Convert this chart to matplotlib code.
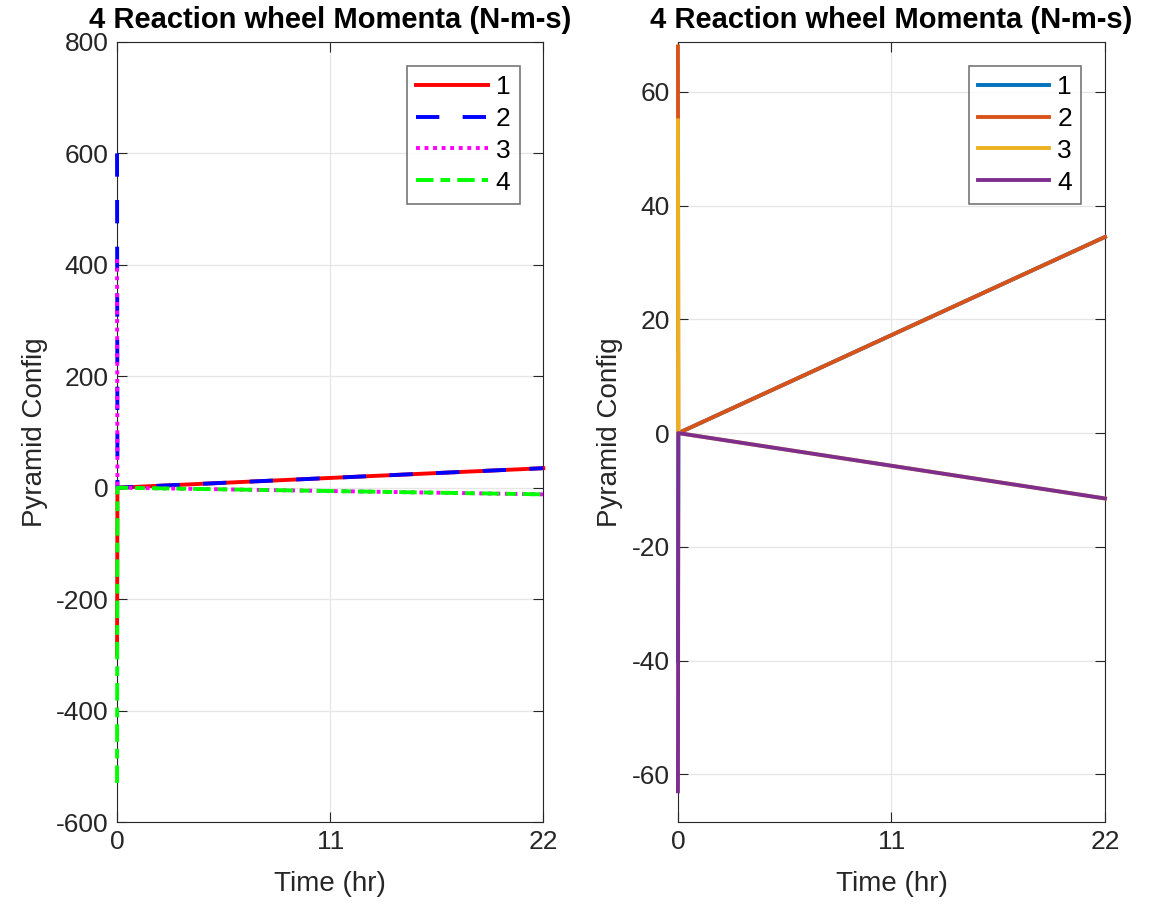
import matplotlib
matplotlib.use("Agg")
from matplotlib import pyplot as plt

# time samples (hr): initial transient at t=0, then a long linear drift
time_hr = [0, 0.02, 22]

# left panel: pyramid config, wheel momenta (N-m-s)
left_h1 = [-300, 0, 35]
left_h2 = [600, 0, 35]
left_h3 = [410, 0, -12]
left_h4 = [-530, 0, -12]

# right panel
right_h1 = [-40, 0, 34.5]
right_h2 = [68, 0, 34.5]
right_h3 = [55, 0, -11.5]
right_h4 = [-63, 0, -11.5]

wheel_labels = ["1", "2", "3", "4"]
x_ticks = [0, 11, 22]
left_yticks = [-600, -400, -200, 0, 200, 400, 600, 800]
right_yticks = [-60, -40, -20, 0, 20, 40, 60]

plt.rcParams["font.family"] = ["Liberation Sans", "DejaVu Sans"]
plt.rcParams["axes.unicode_minus"] = False
txt_color = "#262626"

fig = plt.figure(figsize=(11.52, 9.05), dpi=100)
ax1 = fig.add_axes([0.1016, 0.0917, 0.370, 0.862])
ax2 = fig.add_axes([0.5885, 0.0917, 0.3707, 0.862])

# MATLAB-like line styles
line_kw = dict(lw=2.8, clip_on=False, zorder=3)
ax1.plot(time_hr, left_h1, color="#FF0000", linestyle="-", label=wheel_labels[0], **line_kw)
ax1.plot(time_hr, left_h2, color="#0000FF", linestyle=(0, (6, 6)), label=wheel_labels[1], **line_kw)
ax1.plot(time_hr, left_h3, color="#FF00FF", linestyle=(0, (1, 1.2)), label=wheel_labels[2], **line_kw)
ax1.plot(time_hr, left_h4, color="#00FF00", linestyle=(0, (4.5, 1.8, 2.5, 1.8)), label=wheel_labels[3], **line_kw)

ax2.plot(time_hr, right_h1, color="#0072BD", label=wheel_labels[0], **line_kw)
ax2.plot(time_hr, right_h2, color="#D95319", label=wheel_labels[1], **line_kw)
ax2.plot(time_hr, right_h3, color="#EDB120", label=wheel_labels[2], **line_kw)
ax2.plot(time_hr, right_h4, color="#7E2F8E", label=wheel_labels[3], **line_kw)

ax1.set_ylim(-600, 800)
ax1.set_yticks(left_yticks)
ax2.set_ylim(-68.4, 68.8)
ax2.set_yticks(right_yticks)

for ax in (ax1, ax2):
    ax.set_xlim(0, 22)
    ax.set_xticks(x_ticks)
    ax.grid(True, color="#e6e6e6", linewidth=0.9)
    ax.set_axisbelow(True)
    ax.tick_params(direction="in", top=True, right=True, length=7, width=0.8,
                   labelsize=19, colors=txt_color, pad=6)
    for sp in ax.spines.values():
        sp.set_color(txt_color)
        sp.set_linewidth(0.8)
    ax.set_xlabel("Time (hr)", fontsize=20, color=txt_color, labelpad=12)
    ax.set_ylabel("Pyramid Config", fontsize=20, color=txt_color, labelpad=6)
    ax.set_title("4 Reaction wheel Momenta (N-m-s)", fontsize=21, fontweight="bold", pad=10)
    leg = ax.legend(loc="upper right", fontsize=19, frameon=True, fancybox=False,
                    handlelength=2.7, handletextpad=0.3, borderpad=0.35, labelspacing=0.3,
                    borderaxespad=0.9)
    leg.get_frame().set_edgecolor("#555555")
    leg.get_frame().set_linewidth(1.2)
    leg.set_zorder(5)

fig.savefig("out.png", dpi=100)
plt.close(fig)
